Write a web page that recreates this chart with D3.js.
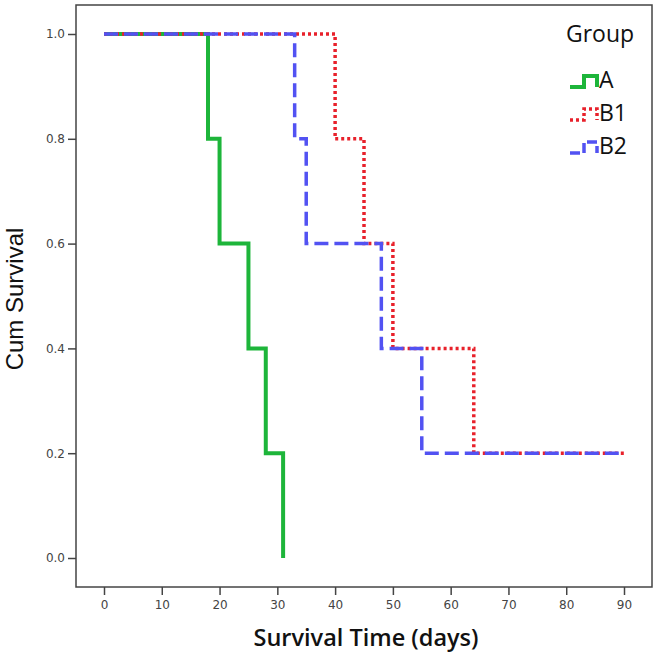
<!DOCTYPE html>
<html><head><meta charset="utf-8">
<script src="https://cdn.jsdelivr.net/npm/d3@7"></script>
<style>body{margin:0;background:#fff}svg{display:block}</style>
</head><body>
<svg id="c" width="658" height="657"></svg>
<script>
const groups = ["A", "B1", "B2"];
const timesA = [0, 18, 20, 25, 28, 31];
const survA = [1.0, 0.8, 0.6, 0.4, 0.2, 0.0];
const timesB1 = [0, 40, 45, 50, 64, 90];
const survB1 = [1.0, 0.8, 0.6, 0.4, 0.2, 0.2];
const timesB2 = [0, 33, 35, 48, 55, 90];
const survB2 = [1.0, 0.8, 0.6, 0.4, 0.2, 0.2];
const xTicks = [0, 10, 20, 30, 40, 50, 60, 70, 80, 90];
const yTicks = [0.0, 0.2, 0.4, 0.6, 0.8, 1.0];

const series = [
  {name: groups[0], t: timesA, s: survA, color: "#1db53a", dash: null, legDash: null, width: 4},
  {name: groups[1], t: timesB1, s: survB1, color: "#e8212b", dash: "3,3", legDash: "3,3", width: 3.5},
  {name: groups[2], t: timesB2, s: survB2, color: "#5252f2", dash: "14,6", legDash: "10,4", width: 3.5}
];

const svg = d3.select("#c");
const L = 76, R = 652, T = 5, B = 587;
const xs = d3.scaleLinear().domain([0, 90]).range([104, 624]);
const ys = d3.scaleLinear().domain([0, 1]).range([558, 34]);

svg.append("rect").attr("x", L).attr("y", T).attr("width", R - L).attr("height", B - T)
  .attr("fill", "#fff").attr("stroke", "#444").attr("stroke-width", 1.5);

const yAx = svg.append("g").attr("transform", `translate(${L},0)`)
  .call(d3.axisLeft(ys).tickValues(yTicks).tickFormat(d3.format(".1f")).tickSize(8).tickPadding(3));
yAx.select(".domain").remove();
yAx.selectAll("line").attr("stroke", "#444").attr("stroke-width", 1.5);
yAx.selectAll("text").attr("font-family", "DejaVu Sans, sans-serif").attr("font-size", 12).attr("fill", "#444");

const xAx = svg.append("g").attr("transform", `translate(0,${B})`)
  .call(d3.axisBottom(xs).tickValues(xTicks).tickSize(8).tickPadding(5));
xAx.select(".domain").remove();
xAx.selectAll("line").attr("stroke", "#444").attr("stroke-width", 1.5);
xAx.selectAll("text").attr("font-family", "DejaVu Sans, sans-serif").attr("font-size", 12).attr("fill", "#444");

const line = d3.line().x(d => xs(d[0])).y(d => ys(d[1])).curve(d3.curveStepAfter);
series.forEach(sr => {
  const pts = sr.t.map((t, i) => [t, sr.s[i]]);
  svg.append("path").datum(pts).attr("d", line)
    .attr("fill", "none").attr("stroke", sr.color).attr("stroke-width", sr.width)
    .attr("stroke-dasharray", sr.dash);
});

svg.append("text").attr("x", 366).attr("y", 646).attr("text-anchor", "middle")
  .attr("font-family", "Open Sans, sans-serif").attr("font-weight", 600).attr("font-size", 23.5)
  .attr("fill", "#111").text("Survival Time (days)");
svg.append("text").attr("transform", "translate(23,299) rotate(-90)").attr("text-anchor", "middle")
  .attr("font-family", "Liberation Sans, Arial, sans-serif").attr("font-size", 24)
  .attr("fill", "#111").text("Cum Survival");

svg.append("text").attr("x", 566).attr("y", 42)
  .attr("font-family", "Open Sans, sans-serif").attr("font-size", 23).attr("fill", "#111").text("Group");
series.forEach((sr, i) => {
  const y0 = 87 + i * 33;
  svg.append("path").attr("d", `M570,${y0}H584V${y0 - 11}H597V${y0}`)
    .attr("fill", "none").attr("stroke", sr.color).attr("stroke-width", sr.width)
    .attr("stroke-dasharray", sr.legDash);
  svg.append("text").attr("x", 599).attr("y", y0 + 1)
    .attr("font-family", "Open Sans, sans-serif").attr("font-size", 23).attr("fill", "#111").text(sr.name);
});
</script>
</body></html>
